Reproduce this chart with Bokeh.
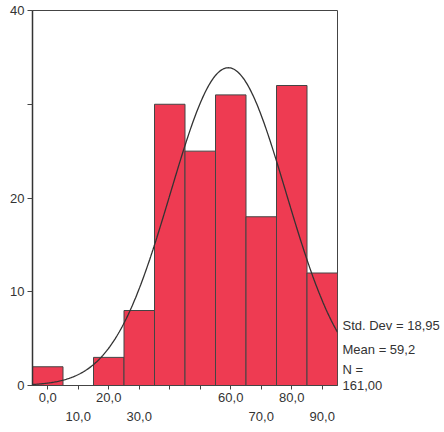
import numpy as np
from bokeh.plotting import figure
from bokeh.models import LinearAxis, FixedTicker, Range1d
from bokeh.embed import file_html
from bokeh.resources import INLINE

# Histogram data (bin centres, counts)
bin_centers = [0, 10, 20, 30, 40, 50, 60, 70, 80, 90]
counts = [2, 0, 3, 8, 30, 25, 31, 18, 32, 12]
bin_width = 10

# Summary statistics shown on the chart
std_dev = 18.95
mean = 59.2
n_total = 161

x_ticks = [0, 10, 20, 30, 40, 50, 60, 70, 80, 90]
x_labels_row1 = {0: "0,0", 20: "20,0", 60: "60,0", 80: "80,0"}
x_labels_row2 = {10: "10,0", 30: "30,0", 70: "70,0", 90: "90,0"}
y_ticks = [0, 10, 20, 30, 40]
y_labels = {0: "0", 10: "10", 20: "20", 30: "", 40: "40"}

stats_text = [
    "Std. Dev = " + f"{std_dev:.2f}".replace(".", ","),
    "Mean = " + f"{mean:.1f}".replace(".", ","),
    "N =",
    f"{n_total:.2f}".replace(".", ","),
]
stats_pos = [6.4, 3.85, 1.75, 0.0]   # vertical placement of the legend lines

FONT = "Liberation Sans"
TXT = "#333333"

p = figure(width=442, height=430, output_backend="svg", toolbar_location=None,
           x_range=Range1d(-5, 95), y_range=Range1d(0, 40),
           min_border_left=32, min_border_top=10, min_border_right=104,
           min_border_bottom=45, x_axis_location=None)
p.grid.visible = False
p.outline_line_color = "#444444"
p.outline_line_width = 1
p.background_fill_color = "white"
p.border_fill_color = "white"

p.vbar(x=bin_centers, top=counts, width=bin_width, bottom=0,
       fill_color="#EE3B52", line_color="#444444", line_width=1)

# Normal curve implied by the displayed mean, sd and N
xs = np.linspace(-5, 95, 300)
ys = n_total * bin_width / (std_dev * np.sqrt(2 * np.pi)) * np.exp(-0.5 * ((xs - mean) / std_dev) ** 2)
p.line(xs, ys, line_color="#333333", line_width=1.3)

# y axis
ya = p.yaxis[0]
ya.ticker = FixedTicker(ticks=y_ticks)
ya.major_label_overrides = dict(y_labels)
ya.minor_tick_line_color = None
ya.major_tick_out = 5
ya.major_tick_in = 0
ya.major_label_standoff = 3
ya.axis_line_color = "#333333"
ya.axis_line_width = 1.5
ya.major_tick_line_color = "#444444"
ya.major_label_text_font = FONT
ya.major_label_text_font_size = "13px"
ya.major_label_text_color = TXT


def make_xaxis(labels, first):
    ax = LinearAxis(ticker=FixedTicker(ticks=x_ticks))
    ax.major_label_overrides = {t: labels.get(t, "") for t in x_ticks}
    ax.minor_tick_line_color = None
    ax.major_label_text_font = FONT
    ax.major_label_text_font_size = "13px"
    ax.major_label_text_color = TXT
    ax.major_tick_in = 0
    if first:
        ax.axis_line_color = "#444444"
        ax.major_tick_line_color = "#444444"
        ax.major_tick_out = 4
        ax.major_label_standoff = 3
    else:
        ax.axis_line_color = None
        ax.major_tick_line_color = None
        ax.major_tick_out = 0
        ax.major_label_standoff = 7
    return ax


p.add_layout(make_xaxis(x_labels_row1, True), "below")
p.add_layout(make_xaxis(x_labels_row2, False), "below")

# statistics legend as a label-only axis on the right
sa = LinearAxis(ticker=FixedTicker(ticks=stats_pos))
sa.major_label_overrides = {pos: t for pos, t in zip(stats_pos, stats_text)}
sa.axis_line_color = None
sa.major_tick_line_color = None
sa.minor_tick_line_color = None
sa.major_tick_out = 0
sa.major_tick_in = 0
sa.major_label_standoff = 5
sa.major_label_text_font = FONT
sa.major_label_text_font_size = "13px"
sa.major_label_text_color = TXT
p.add_layout(sa, "right")

open("out.html", "w").write(file_html(p, INLINE))
